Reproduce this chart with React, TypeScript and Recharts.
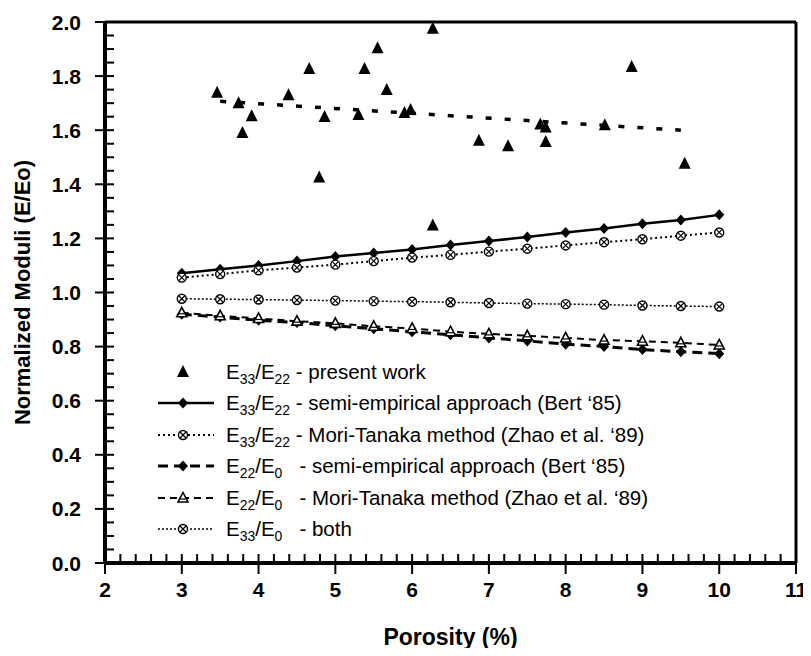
import React from "react";
import { ComposedChart, Line, Scatter, XAxis, YAxis, ReferenceLine, Legend } from "recharts";

// porosity (%) at which the model curves were evaluated
const porosity = [3, 3.5, 4, 4.5, 5, 5.5, 6, 6.5, 7, 7.5, 8, 8.5, 9, 9.5, 10];

// E33/E22 semi-empirical approach (Bert '85)
const e33e22Semi = [1.071, 1.086, 1.1, 1.116, 1.133, 1.146, 1.159, 1.176, 1.19, 1.205, 1.222, 1.237, 1.254, 1.268, 1.287];
// E33/E22 Mori-Tanaka (Zhao et al. '89)
const e33e22MT = [1.055, 1.068, 1.082, 1.092, 1.103, 1.116, 1.129, 1.139, 1.151, 1.162, 1.174, 1.186, 1.197, 1.21, 1.222];
// E33/E0 both
const e33e0Both = [0.977, 0.975, 0.974, 0.972, 0.97, 0.968, 0.966, 0.964, 0.961, 0.959, 0.957, 0.955, 0.952, 0.95, 0.948];
// E22/E0 semi-empirical
const e22e0Semi = [0.92, 0.909, 0.897, 0.889, 0.877, 0.866, 0.855, 0.844, 0.832, 0.821, 0.809, 0.8, 0.789, 0.781, 0.774];
// E22/E0 Mori-Tanaka
const e22e0MT = [0.925, 0.914, 0.904, 0.894, 0.886, 0.875, 0.867, 0.855, 0.847, 0.84, 0.832, 0.824, 0.82, 0.814, 0.806];

// E33/E22 present work (measured)
const presentX = [3.46, 3.74, 3.79, 3.91, 4.39, 4.66, 4.79, 4.86, 5.3, 5.38, 5.55, 5.67, 5.9, 5.98, 6.27, 6.27, 6.87, 7.25, 7.67, 7.74, 7.74, 8.51, 8.86, 9.55];
const presentY = [1.738, 1.7, 1.59, 1.652, 1.729, 1.826, 1.425, 1.649, 1.656, 1.826, 1.903, 1.749, 1.664, 1.675, 1.975, 1.248, 1.561, 1.541, 1.621, 1.61, 1.556, 1.618, 1.834, 1.476];

// trend through the present work
const trendX = [3.5, 9.5];
const trendY = [1.707, 1.6];

const xTickLabels = [2, 3, 4, 5, 6, 7, 8, 9, 10, 11];
const yTickLabels = [0, 0.2, 0.4, 0.6, 0.8, 1.0, 1.2, 1.4, 1.6, 1.8, 2.0];

// minor ticks (axis decoration only)
const xTicks = Array.from({ length: 46 }, (_, i) => +(2 + i * 0.2).toFixed(1));
const yTicks = Array.from({ length: 41 }, (_, i) => +(i * 0.05).toFixed(2));

const FONT = "'Liberation Sans', Arial, sans-serif";

const toPoints = (ys: number[]) => porosity.map((x, i) => ({ x, y: ys[i] }));
const presentPts = presentX.map((x, i) => ({ x, y: presentY[i] }));
const trendPts = trendX.map((x, i) => ({ x, y: trendY[i] }));

const Diamond = ({ cx, cy }: any) => (
  <polygon points={`${cx},${cy - 5.5} ${cx + 5},${cy} ${cx},${cy + 5.5} ${cx - 5},${cy}`} fill="#000" />
);
const Tri = ({ cx, cy }: any) => (
  <polygon points={`${cx},${cy - 7} ${cx + 6},${cy + 5} ${cx - 6},${cy + 5}`} fill="#000" />
);
const OpenTri = ({ cx, cy }: any) => (
  <g>
    <polygon points={`${cx},${cy - 5.5} ${cx + 5},${cy + 4} ${cx - 5},${cy + 4}`} fill="#fff" stroke="#000" strokeWidth={1.6} />
    <line x1={cx - 3} x2={cx + 3} y1={cy + 1} y2={cy + 1} stroke="#000" strokeWidth={1.2} />
  </g>
);
const CrossCircle = ({ cx, cy }: any) => (
  <g>
    <circle cx={cx} cy={cy} r={4.5} fill="#fff" stroke="#000" strokeWidth={1.4} />
    <line x1={cx - 3} x2={cx + 3} y1={cy - 3} y2={cy + 3} stroke="#000" strokeWidth={1.2} />
    <line x1={cx - 3} x2={cx + 3} y1={cy + 3} y2={cy - 3} stroke="#000" strokeWidth={1.2} />
  </g>
);

const series = [
  { key: "semi33", data: toPoints(e33e22Semi), dash: undefined, width: 2.5, Mark: Diamond, num: "33", den: "22", sp: false, text: "semi-empirical approach (Bert \u201885)" },
  { key: "mt33", data: toPoints(e33e22MT), dash: "2 3", width: 2, Mark: CrossCircle, num: "33", den: "22", sp: false, text: "Mori-Tanaka method (Zhao et al. \u201889)" },
  { key: "semi22", data: toPoints(e22e0Semi), dash: "10 6", width: 3, Mark: Diamond, num: "22", den: "0", sp: true, text: "semi-empirical approach (Bert \u201885)" },
  { key: "mt22", data: toPoints(e22e0MT), dash: "7 5", width: 2, Mark: OpenTri, num: "22", den: "0", sp: true, text: "Mori-Tanaka method (Zhao et al. \u201889)" },
  { key: "both", data: toPoints(e33e0Both), dash: "2 2", width: 1.5, Mark: CrossCircle, num: "33", den: "0", sp: true, text: "both" },
];

// tickSize and tickMargin are 0, so x/y given to the tick sit on the axis line
const XTick = (props: any) => {
  const { x, y, payload } = props;
  const v = payload.value;
  const major = xTickLabels.some((t) => Math.abs(t - v) < 1e-6);
  return (
    <g>
      <rect x={x - 1} y={y - 9} width={2} height={major ? 20 : 9} fill="#000" />
      {major && (
        <text x={x} y={y + 34} textAnchor="middle" fontFamily={FONT} fontWeight="bold" fontSize={21} fill="#000">
          {v}
        </text>
      )}
    </g>
  );
};

const YTick = (props: any) => {
  const { x, y, payload } = props;
  const v = payload.value;
  const major = yTickLabels.some((t) => Math.abs(t - v) < 1e-6);
  return (
    <g>
      <rect x={major ? x - 10 : x} y={y - 1} width={major ? 19 : 9} height={2} fill="#000" />
      {major && (
        <text x={x - 24} y={y} dy="0.36em" textAnchor="end" fontFamily={FONT} fontWeight="bold" fontSize={21} fill="#000">
          {v.toFixed(1)}
        </text>
      )}
    </g>
  );
};

const Sub = ({ children }: any) => (
  <span style={{ fontSize: "0.68em", position: "relative", top: "0.35em" }}>{children}</span>
);

const LegendBox = () => (
  <div style={{ fontFamily: FONT, fontSize: 20.5, color: "#000" }}>
    <div style={{ display: "flex", alignItems: "center", height: 31.5 }}>
      <svg width={56} height={20} style={{ marginRight: 12 }}>
        <Tri cx={25} cy={10} />
      </svg>
      <span>
        E<Sub>33</Sub>/E<Sub>22</Sub> - present work
      </span>
    </div>
    {series.map((s) => (
      <div key={s.key} style={{ display: "flex", alignItems: "center", height: 31.5 }}>
        <svg width={56} height={20} style={{ marginRight: 12 }}>
          <line x1={0} x2={56} y1={10} y2={10} stroke="#000" strokeWidth={s.width} strokeDasharray={s.dash} />
          <s.Mark cx={25} cy={10} />
        </svg>
        <span style={{ whiteSpace: "pre" }}>
          E<Sub>{s.num}</Sub>/E<Sub>{s.den}</Sub>
          {s.sp ? "   - " : " - "}
          {s.text}
        </span>
      </div>
    ))}
  </div>
);

export default function App() {
  return (
    <div style={{ width: 803, height: 648, marginBottom: -8 }}>
      <ComposedChart width={803} height={648} margin={{ top: 14, right: 15, bottom: 0, left: 0 }}>
        <XAxis
          type="number"
          dataKey="x"
          domain={[2, 11]}
          ticks={xTicks}
          interval={0}
          tick={<XTick />}
          tickLine={false}
          tickSize={0}
          tickMargin={0}
          height={93}
          axisLine={{ stroke: "#000", strokeWidth: 4 }}
          label={{ value: "Porosity (%)", position: "insideBottom", offset: 11, fontSize: 23, fontWeight: "bold", fill: "#000", fontFamily: FONT }}
        />
        <YAxis
          type="number"
          domain={[0, 2]}
          ticks={yTicks}
          interval={0}
          tick={<YTick />}
          tickLine={false}
          tickSize={0}
          tickMargin={0}
          width={97}
          axisLine={{ stroke: "#000", strokeWidth: 4 }}
          label={{
            value: "Normalized Moduli (E/Eo)",
            angle: -90,
            position: "insideLeft",
            offset: 14,
            style: { textAnchor: "middle" },
            fontSize: 22,
            fontWeight: "bold",
            fill: "#000",
            fontFamily: FONT,
          }}
        />
        <ReferenceLine y={2} stroke="#000" strokeWidth={3} />
        <ReferenceLine x={11} stroke="#000" strokeWidth={3} />
        <Line
          data={trendPts}
          dataKey="y"
          type="linear"
          stroke="#000"
          strokeWidth={3.5}
          strokeDasharray="6 13"
          dot={false}
          isAnimationActive={false}
          legendType="none"
        />
        {series.map((s) => (
          <Line
            key={s.key}
            data={s.data}
            dataKey="y"
            type="linear"
            stroke="#000"
            strokeWidth={s.width}
            strokeDasharray={s.dash}
            dot={(p: any) => <s.Mark key={`${s.key}-${p.index}`} cx={p.cx} cy={p.cy} />}
            activeDot={false}
            isAnimationActive={false}
            legendType="none"
          />
        ))}
        <Scatter
          data={presentPts}
          dataKey="y"
          shape={(p: any) => <Tri cx={p.cx} cy={p.cy} />}
          isAnimationActive={false}
          legendType="none"
        />
        <Legend
          layout="vertical"
          align="center"
          verticalAlign="middle"
          wrapperStyle={{ position: "absolute", left: 150, top: 348, width: 520 }}
          content={() => <LegendBox />}
        />
      </ComposedChart>
    </div>
  );
}
